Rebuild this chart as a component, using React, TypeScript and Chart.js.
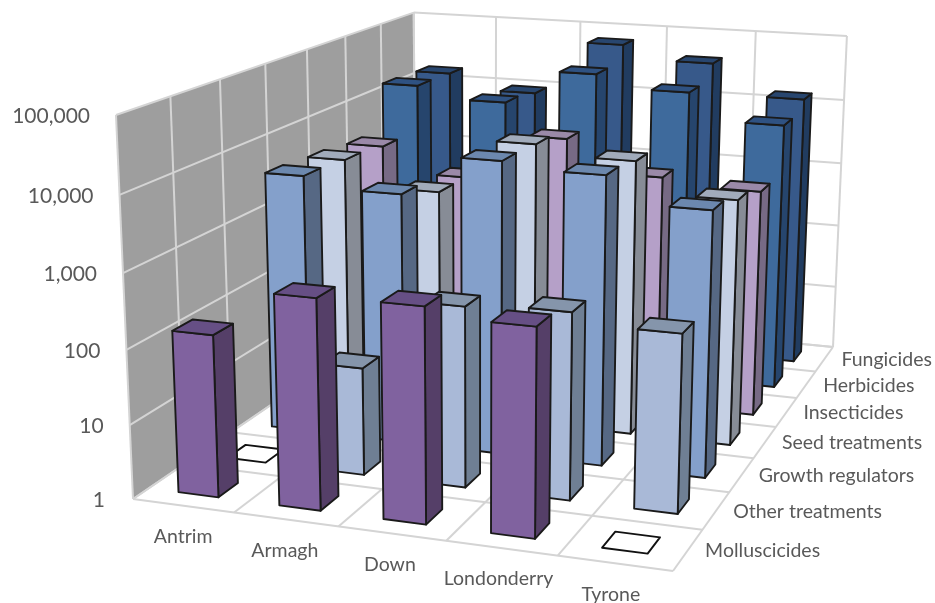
import React, { useEffect, useRef } from "react";
import { Chart, registerables } from "chart.js";

Chart.register(...registerables);

const WIDTH = 935;
const HEIGHT = 603;

const counties = ["Antrim", "Armagh", "Down", "Londonderry", "Tyrone"];
// Listed front to back along the depth axis.
const treatments = [
  "Molluscicides",
  "Other treatments",
  "Growth regulators",
  "Seed treatments",
  "Insecticides",
  "Herbicides",
  "Fungicides",
];
const valueTicks = [1, 10, 100, 1000, 10000, 100000];

const molluscicides = [150, 625, 670, 515, 1];
const otherTreatments = [1, 30, 285, 330, 240];
const growthRegulators = [4600, 3300, 12000, 9900, 4400];
const seedTreatments = [4100, 1800, 11000, 8100, 3000];
const insecticides = [3500, 1500, 7200, 2500, 2000];
const herbicides = [17000, 11500, 38000, 24700, 9900];
const fungicides = [16000, 9400, 66000, 41000, 14000];

const seriesValues = [
  molluscicides,
  otherTreatments,
  growthRegulators,
  seedTreatments,
  insecticides,
  herbicides,
  fungicides,
];
const frontColors = ["#80629f", "#a9b9d7", "#84a0cb", "#c5d0e4", "#b5a0c8", "#3e6a9c", "#37598a"];
const sideColors = ["#553f68", "#6f7f94", "#566884", "#878c96", "#776a85", "#26456d", "#213c60"];
const topColors = ["#664f85", "#8595ab", "#6c88ae", "#a1abbb", "#9a89a8", "#2f5282", "#28466f"];

// Floor corners on screen plus the point where the box's vertical edges converge.
const floorCorners = [
  [133, 499],
  [673, 571],
  [833, 347],
  [416, 306],
];
const verticalVanish = [478, 8285];
const verticalStrength = -0.047;
const barSpan = 0.4;

const floorMatrix = (() => {
  const [p0, p1, p2, p3] = floorCorners;
  const dx1 = p1[0] - p2[0];
  const dx2 = p3[0] - p2[0];
  const sx = p0[0] - p1[0] + p2[0] - p3[0];
  const dy1 = p1[1] - p2[1];
  const dy2 = p3[1] - p2[1];
  const sy = p0[1] - p1[1] + p2[1] - p3[1];
  const den = dx1 * dy2 - dx2 * dy1;
  const g = (sx * dy2 - dx2 * sy) / den;
  const h = (dx1 * sy - sx * dy1) / den;
  return {
    a: p1[0] - p0[0] + g * p1[0],
    b: p3[0] - p0[0] + h * p3[0],
    c: p0[0],
    d: p1[1] - p0[1] + g * p1[1],
    e: p3[1] - p0[1] + h * p3[1],
    f: p0[1],
    g,
    h,
  };
})();

// u runs along the counties, v into the depth, t up the value axis (all 0..1).
function project(u: number, v: number, t: number): [number, number] {
  const m = floorMatrix;
  const k = verticalStrength * t;
  const w = m.g * u + m.h * v + 1 + k;
  const x = m.a * u + m.b * v + m.c + k * verticalVanish[0];
  const y = m.d * u + m.e * v + m.f + k * verticalVanish[1];
  return [x / w, y / w];
}

function fraction(scale: any, value: number) {
  return (scale.getPixelForValue(value) - scale.left) / scale.width;
}

function heightOf(scale: any, value: number) {
  return (scale.bottom - scale.getPixelForValue(value)) / (scale.bottom - scale.top);
}

function polygon(ctx: CanvasRenderingContext2D, pts: [number, number][], fill: string, stroke?: string, lw = 1.9) {
  ctx.beginPath();
  pts.forEach((p, i) => (i ? ctx.lineTo(p[0], p[1]) : ctx.moveTo(p[0], p[1])));
  ctx.closePath();
  ctx.fillStyle = fill;
  ctx.fill();
  if (stroke) {
    ctx.strokeStyle = stroke;
    ctx.lineWidth = lw;
    ctx.lineJoin = "round";
    ctx.stroke();
  }
}

function segment(ctx: CanvasRenderingContext2D, a: [number, number], b: [number, number]) {
  ctx.beginPath();
  ctx.moveTo(a[0], a[1]);
  ctx.lineTo(b[0], b[1]);
  ctx.stroke();
}

const box3d = {
  id: "box3d",
  // Walls, floor and their grid lines sit behind every bar.
  beforeDatasetsDraw(chart: any) {
    const { ctx, scales } = chart;
    const cols = counties.length;
    const rows = treatments.length;
    ctx.save();
    polygon(ctx, [project(0, 0, 0), project(0, 1, 0), project(0, 1, 1), project(0, 0, 1)], "#9e9e9e");
    polygon(ctx, [project(0, 0, 0), project(1, 0, 0), project(1, 1, 0), project(0, 1, 0)], "#ffffff");
    ctx.strokeStyle = "#d4d4d4";
    ctx.lineWidth = 2;
    for (const tick of valueTicks) {
      const t = heightOf(scales.y, tick);
      segment(ctx, project(0, 0, t), project(0, 1, t));
      segment(ctx, project(0, 1, t), project(1, 1, t));
    }
    for (let i = 0; i <= cols; i++) {
      const u = i / cols;
      segment(ctx, project(u, 0, 0), project(u, 1, 0));
      segment(ctx, project(u, 1, 0), project(u, 1, 1));
    }
    for (let j = 0; j <= rows; j++) {
      const v = j / rows;
      segment(ctx, project(0, v, 0), project(1, v, 0));
      segment(ctx, project(0, v, 0), project(0, v, 1));
    }
    ctx.restore();
  },
  // Each dataset is one row of boxes, painted left to right.
  beforeDatasetDraw(chart: any, args: any) {
    const { ctx, scales } = chart;
    const ds = chart.data.datasets[args.index];
    const halfU = barSpan / counties.length / 2;
    const halfV = barSpan / treatments.length / 2;
    const vc = fraction(scales.z, args.index);
    ctx.save();
    ds.data.forEach((value: number, i: number) => {
      const uc = fraction(scales.x, i);
      const t = heightOf(scales.y, value);
      const [u0, u1, v0, v1] = [uc - halfU, uc + halfU, vc - halfV, vc + halfV];
      const top: [number, number][] = [project(u0, v0, t), project(u1, v0, t), project(u1, v1, t), project(u0, v1, t)];
      if (t <= 0) {
        polygon(ctx, top, "#ffffff", "#111111");
        return;
      }
      polygon(ctx, [project(u1, v0, 0), project(u1, v1, 0), project(u1, v1, t), project(u1, v0, t)], ds.sideColor, "#1a1a1a");
      polygon(ctx, [project(u0, v0, 0), project(u1, v0, 0), project(u1, v0, t), project(u0, v0, t)], ds.backgroundColor, "#1a1a1a");
      polygon(ctx, top, ds.topColor, "#1a1a1a");
    });
    ctx.restore();
    return false;
  },
  afterDraw(chart: any) {
    const { ctx, scales } = chart;
    ctx.save();
    ctx.textBaseline = "middle";
    ctx.fillStyle = "#595959";
    ctx.font = "21px Lato";
    ctx.textAlign = "right";
    for (const tick of valueTicks) {
      const [x, y] = project(0, 0, heightOf(scales.y, tick));
      ctx.fillText(tick.toLocaleString("en-US"), x - 26 + (tick === 1 ? -2 : 0), y + 1);
    }
    ctx.font = "19.5px Lato";
    ctx.textAlign = "center";
    counties.forEach((name, i) => {
      const [x, y] = project(fraction(scales.x, i), 0, 0);
      ctx.fillText(name, x - i, y + 31);
    });
    ctx.textAlign = "left";
    treatments.forEach((name, j) => {
      const [x, y] = project(1, fraction(scales.z, j), 0);
      ctx.fillText(name, x + 17, y + 1);
    });
    ctx.restore();
  },
};

export default function App() {
  const ref = useRef<HTMLCanvasElement>(null);
  useEffect(() => {
    const chart = new Chart(ref.current as HTMLCanvasElement, {
      type: "bar",
      data: {
        labels: counties,
        datasets: treatments.map((label, j) => ({
          label,
          data: seriesValues[j],
          backgroundColor: frontColors[j],
          sideColor: sideColors[j],
          topColor: topColors[j],
        })) as any,
      },
      options: {
        animation: false,
        responsive: false,
        layout: { padding: 0 },
        plugins: { legend: { display: false }, tooltip: { enabled: false } },
        scales: {
          x: { type: "category", display: false, offset: true },
          y: { type: "logarithmic", display: false, min: 1, max: 100000 },
          z: { type: "category", axis: "x", position: "bottom", display: false, offset: true, labels: treatments },
        } as any,
      },
      plugins: [box3d],
    });
    return () => chart.destroy();
  }, []);
  return (
    <canvas
      ref={ref}
      width={WIDTH}
      height={HEIGHT}
      style={{ position: "fixed", left: 0, top: 0, display: "block" }}
    />
  );
}
